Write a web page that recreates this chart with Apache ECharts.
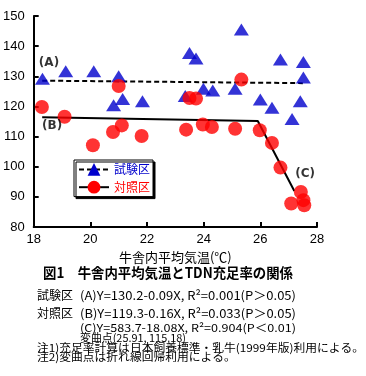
<!DOCTYPE html>
<html><head><meta charset="utf-8">
<script src="https://cdn.jsdelivr.net/npm/echarts@6/dist/echarts.min.js"></script>
<style>html,body{margin:0;padding:0;background:#fff}#c{width:366px;height:376px}</style>
</head><body><div id="c"></div>
<script>
// 試験区 (triangles)
const testX = [18.31, 19.13, 20.12, 21.0, 20.82, 21.14, 21.84, 23.5, 23.73, 23.35, 23.99, 24.32, 25.11, 25.33, 26.71, 26.0, 26.41, 27.12, 27.52, 27.52, 27.41];
const testY = [129.2, 131.7, 131.7, 130.0, 120.4, 122.5, 121.7, 137.7, 135.9, 123.5, 125.9, 125.3, 125.9, 145.5, 135.6, 122.3, 119.6, 115.8, 134.7, 129.6, 121.7];
// 対照区 (circles)
const ctrlX = [18.29, 19.09, 21.0, 25.33, 20.09, 20.8, 21.11, 21.81, 23.38, 23.5, 23.73, 23.97, 24.29, 25.11, 25.98, 26.41, 26.71, 27.09, 27.43, 27.52, 27.55];
const ctrlY = [119.8, 116.6, 126.8, 128.9, 107.1, 111.5, 113.7, 110.2, 112.3, 122.8, 122.6, 114.0, 113.2, 112.6, 112.1, 107.9, 99.7, 87.8, 91.6, 88.9, 87.2];
// regression lines
const fitA = {a: 130.2, b: -0.09, xs: [18.3, 27.5]};
const fitB = {a: 119.3, b: -0.16, x0: 18.3};
const breakPt = [25.91, 115.18];
const fitC = {a: 583.7, b: -18.08, x1: 27.2};
// annotation labels
const annNames = ['(A)', '(B)', '(C)'];
const annX = [18.54, 18.65, 27.58];
const annY = [134.3, 113.6, 97.6];
// axis ticks
const xTicks = [18, 28, 2];
const yTicks = [80, 150, 10];
// texts
const xName = '牛舎内平均気温(℃)';
const figTitle = '図1　牛舎内平均気温とTDN充足率の関係';
const eqLabels = ['試験区', '対照区'];
const eqA = '(A)Y=130.2-0.09X, R²=0.001(P＞0.05)';
const eqB = '(B)Y=119.3-0.16X, R²=0.033(P＞0.05)';
const eqC = '(C)Y=583.7-18.08X, R²=0.904(P＜0.01)';
const inflect = '変曲点(25.91, 115.18)';
const note1 = '注1)充足率計算は日本飼養標準・乳牛(1999年版)利用による。';
const note2 = '注2)変曲点は折れ線回帰利用による。';

const lineA = fitA.xs.map(x => [x, fitA.a + fitA.b * x]);
const lineBC = [[fitB.x0, fitB.a + fitB.b * fitB.x0], breakPt, [fitC.x1, fitC.a + fitC.b * fitC.x1]];

const numFont = "'Liberation Sans Narrow', 'Liberation Sans', sans-serif";
const jp = "'Noto Sans CJK JP', sans-serif";

const mctx = document.createElement('canvas').getContext('2d');
function textEl(text, x, y, size, weight, targetW) {
  mctx.font = weight + ' ' + size + 'px ' + jp;
  const w = mctx.measureText(text).width;
  const sx = targetW ? targetW / w : 1;
  return {type: 'text', x: x, y: y, scaleX: sx,
    style: {text: text, fontSize: size, fontWeight: weight, fontFamily: jp, fill: '#000', verticalAlign: 'middle'}};
}
mctx.font = 'normal 11px ' + jp;
const noteScale = 327 / mctx.measureText(note1).width;

const chart = echarts.init(document.getElementById('c'), null, {renderer: 'canvas'});
const axisCommon = {
  type: 'value',
  axisLine: {show: true, lineStyle: {color: '#000', width: 2}},
  axisTick: {show: true, inside: true, length: 5, lineStyle: {color: '#000', width: 2}},
  splitLine: {show: false},
  axisLabel: {color: '#000', fontSize: 13, fontFamily: numFont}
};
const n2 = textEl(note2, 37, 357, 11, 'normal');
n2.scaleX = noteScale;
chart.setOption({
  animation: false,
  backgroundColor: '#fff',
  grid: {left: 31, top: 16, width: 286, height: 211, containLabel: false},
  xAxis: Object.assign({}, axisCommon, {
    min: xTicks[0], max: xTicks[1], interval: xTicks[2],
    axisLabel: Object.assign({}, axisCommon.axisLabel, {margin: 6}),
    name: xName, nameLocation: 'middle', nameGap: 22,
    nameTextStyle: {color: '#000', fontSize: 13, fontFamily: jp}
  }),
  yAxis: Object.assign({}, axisCommon, {
    min: yTicks[0], max: yTicks[1], interval: yTicks[2],
    axisLabel: Object.assign({}, axisCommon.axisLabel, {margin: 9})
  }),
  legend: {
    left: 74, top: 160, orient: 'vertical',
    data: [{name: '試験区', textStyle: {color: '#0000cc'}}, {name: '対照区', textStyle: {color: '#ff0000'}}],
    itemWidth: 30, itemHeight: 16, itemGap: 5,
    padding: [3, 3, 3, 4],
    backgroundColor: '#fff', borderColor: '#000', borderWidth: 1,
    shadowColor: '#000', shadowOffsetX: 2, shadowOffsetY: 2, shadowBlur: 0,
    textStyle: {fontSize: 12, fontFamily: jp},
    selectedMode: false
  },
  series: [
    {name: '試験区', type: 'line', data: lineA, symbol: 'triangle', showSymbol: false,
     itemStyle: {color: '#0000cc'}, lineStyle: {color: '#000', width: 2, type: [5, 3]}, z: 2},
    {name: '対照区', type: 'line', data: lineBC, symbol: 'circle', showSymbol: false,
     itemStyle: {color: '#ff0000'}, lineStyle: {color: '#000', width: 2, type: 'solid'}, z: 2},
    {name: '試験区点', type: 'scatter', symbol: 'triangle', symbolSize: [15, 12],
     data: testX.map((x, i) => [x, testY[i]]), itemStyle: {color: '#0000cc'}, z: 3},
    {name: '対照区点', type: 'scatter', symbol: 'circle', symbolSize: 14,
     data: ctrlX.map((x, i) => [x, ctrlY[i]]), itemStyle: {color: '#ff0000'}, z: 4},
    {name: 'ann', type: 'scatter', symbolSize: 1, itemStyle: {color: 'rgba(0,0,0,0)'}, silent: true,
     data: annNames.map((n, i) => ({name: n, value: [annX[i], annY[i]]})),
     label: {show: true, position: 'inside', formatter: '{b}', color: '#000', fontSize: 12, fontWeight: 'bold', fontFamily: "'DejaVu Sans', sans-serif"}, z: 5}
  ],
  graphic: [
    textEl(figTitle, 43, 273, 14, 'bold', 250),
    textEl(eqLabels[0], 37, 295, 12, 'normal', 36),
    textEl(eqA, 80, 295, 12, 'normal', 216),
    textEl(eqLabels[1], 37, 313, 12, 'normal', 36),
    textEl(eqB, 80, 313, 12, 'normal', 216),
    textEl(eqC, 80, 328, 11, 'normal', 216),
    textEl(inflect, 80, 338, 11, 'normal', 106),
    textEl(note1, 37, 348, 11, 'normal', 327),
    n2
  ]
});
</script>
</body></html>
